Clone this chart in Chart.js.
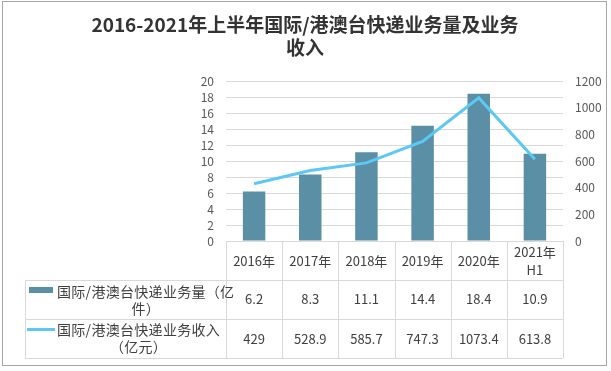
<!DOCTYPE html>
<html lang="zh">
<head>
  <meta charset="UTF-8">
  <title>国际/港澳台快递业务量及业务收入</title>
  <script src="https://cdn.jsdelivr.net/npm/chart.js"></script>
  <style>
    html, body {
      margin: 0;
      padding: 0;
      background: #fff;
    }
  </style>
</head>
<body>
  <canvas id="chart" width="611" height="371"></canvas>

  <script>
    const labels = ["2016年", "2017年", "2018年", "2019年", "2020年", "2021年\nH1"];
    const volume = [6.2, 8.3, 11.1, 14.4, 18.4, 10.9];
    const revenue = [429, 528.9, 585.7, 747.3, 1073.4, 613.8];
    const seriesNames = [
      ["国际/港澳台快递业务量（亿", "件）"],
      ["国际/港澳台快递业务收入", "（亿元）"]
    ];
    const titleLines = ["2016-2021年上半年国际/港澳台快递业务量及业务", "收入"];

    const barColor = "#5a8fa6";
    const lineColor = "#5cc8f5";
    const gridColor = "#d9d9d9";
    const fontFamily = '"Noto Sans CJK SC", "Liberation Sans", sans-serif';

    // title, outer frame and the data table under the plot
    const tablePlugin = {
      id: "dataTable",
      afterDraw(chart) {
        const ctx = chart.ctx;
        const area = chart.chartArea;
        const x = chart.scales.x;
        const colW = (area.right - area.left) / labels.length;
        const top = area.bottom;
        const rows = [top, top + 39, top + 78, top + 117];
        const tableLeft = 25;

        ctx.save();

        // frame
        ctx.strokeStyle = "#a6a6a6";
        ctx.lineWidth = 1;
        ctx.strokeRect(2.5, 1.5, 604, 364);

        // title
        ctx.fillStyle = "#333333";
        ctx.font = "bold 19px " + fontFamily;
        ctx.textAlign = "center";
        ctx.textBaseline = "middle";
        ctx.fillText(titleLines[0], 305, 25);
        ctx.fillText(titleLines[1], 305, 48);

        // table grid
        ctx.strokeStyle = gridColor;
        ctx.beginPath();
        ctx.moveTo(area.left, rows[0] + 0.5);
        ctx.lineTo(area.right, rows[0] + 0.5);
        for (let r = 1; r < rows.length; r++) {
          ctx.moveTo(tableLeft, rows[r] + 0.5);
          ctx.lineTo(area.right, rows[r] + 0.5);
        }
        ctx.moveTo(tableLeft + 0.5, rows[1]);
        ctx.lineTo(tableLeft + 0.5, rows[3]);
        for (let i = 0; i <= labels.length; i++) {
          const lx = Math.round(area.left + i * colW) + 0.5;
          ctx.moveTo(lx, rows[0]);
          ctx.lineTo(lx, rows[3]);
        }
        ctx.stroke();

        // header and values
        ctx.fillStyle = "#404040";
        ctx.font = "13px " + fontFamily;
        labels.forEach((lab, i) => {
          const cx = x.getPixelForValue(i);
          const parts = lab.split("\n");
          if (parts.length === 1) {
            ctx.fillText(parts[0], cx, 261);
          } else {
            ctx.fillText(parts[0], cx, 252);
            ctx.fillText(parts[1], cx, 270);
          }
          ctx.fillText(String(volume[i]), cx, 299);
          ctx.fillText(String(revenue[i]), cx, 339);
        });

        // legend cells
        ctx.fillStyle = barColor;
        ctx.fillRect(29, 287, 24, 6);
        ctx.strokeStyle = lineColor;
        ctx.lineWidth = 3;
        ctx.beginPath();
        ctx.moveTo(27, 329.5);
        ctx.lineTo(55, 329.5);
        ctx.stroke();

        ctx.fillStyle = "#404040";
        ctx.font = "14px " + fontFamily;
        ctx.letterSpacing = "0.3px";
        const legendRows = [[292, 309], [330, 347]];
        seriesNames.forEach((lines, r) => {
          const w = ctx.measureText(lines[0]).width;
          ctx.textAlign = "left";
          ctx.fillText(lines[0], 57, legendRows[r][0]);
          ctx.textAlign = "center";
          ctx.fillText(lines[1], 57 + w / 2, legendRows[r][1]);
        });

        ctx.restore();
      }
    };

    new Chart(document.getElementById("chart"), {
      data: {
        labels,
        datasets: [
          {
            type: "line",
            label: seriesNames[1].join(""),
            data: revenue,
            yAxisID: "y1",
            borderColor: lineColor,
            borderWidth: 3,
            pointRadius: 0,
            tension: 0,
            order: 0
          },
          {
            type: "bar",
            label: seriesNames[0].join(""),
            data: volume,
            yAxisID: "y",
            backgroundColor: barColor,
            barPercentage: 0.4,
            categoryPercentage: 1,
            order: 1
          }
        ]
      },
      options: {
        responsive: false,
        animation: false,
        devicePixelRatio: 1,
        layout: { padding: { top: 81, bottom: 130, left: 0, right: 0 } },
        plugins: {
          legend: { display: false },
          title: { display: false },
          tooltip: { enabled: false }
        },
        scales: {
          x: { display: false },
          y: {
            position: "left",
            min: 0,
            max: 20,
            afterFit: s => { s.width = 226; },
            border: { display: false },
            grid: { color: gridColor, drawTicks: false },
            ticks: {
              stepSize: 2,
              autoSkip: false,
              padding: 12,
              color: "#595959",
              font: { size: 12, family: fontFamily },
              callback: v => String(v)
            }
          },
          y1: {
            position: "right",
            min: 0,
            max: 1200,
            afterFit: s => { s.width = 48; },
            border: { display: false },
            grid: { display: false, drawTicks: false },
            ticks: {
              stepSize: 200,
              autoSkip: false,
              padding: 12,
              color: "#595959",
              font: { size: 12, family: fontFamily },
              callback: v => String(v)
            }
          }
        }
      },
      plugins: [tablePlugin]
    });
  </script>
</body>
</html>
